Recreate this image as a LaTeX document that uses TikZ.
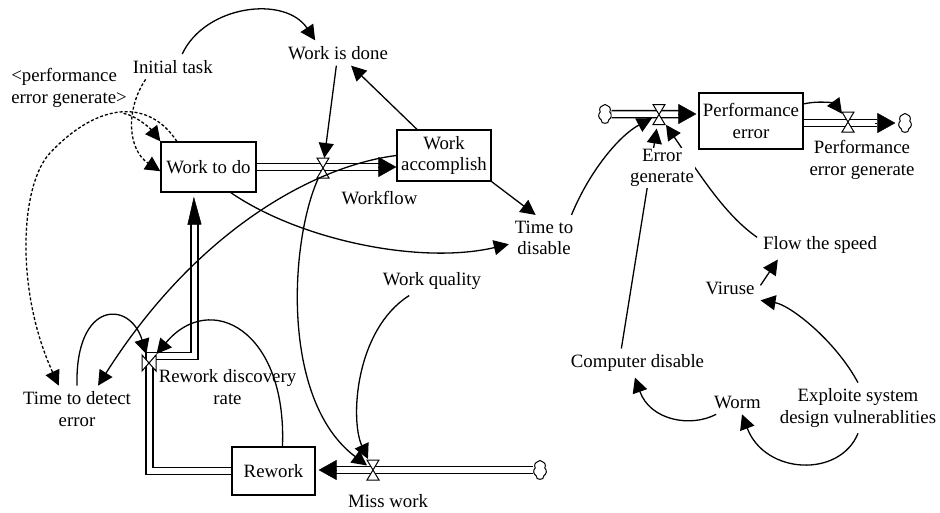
\documentclass[tikz,border=0pt]{standalone}
\usepackage{fontspec}
\setmainfont{Liberation Serif}
\usetikzlibrary{arrows.meta,shapes.symbols,calc}
\pgfdeclarelayer{back}
\pgfsetlayers{back,main}
\tikzset{
  hglass/.pic={\draw[line width=1pt, fill=white] (-6,-10) -- (6,-10) -- (-6,10) -- (6,10) -- cycle;},
  hglassh/.pic={\draw[line width=1pt, fill=white] (-7,-8) -- (-7,8) -- (7,-8) -- (7,8) -- cycle;}
}
\begin{document}
\begin{tikzpicture}[x=1pt,y=-1pt,
  every node/.style={font=\fontsize{18.8}{21.5}\selectfont},
  aux/.style={align=center, inner sep=3pt, outer sep=3pt},
  stock/.style={draw, line width=1.3pt, align=center, inner sep=0pt},
  vnode/.style={inner sep=0pt, outer sep=0pt},
  cloudn/.style={cloud, draw, line width=1pt, cloud puffs=7, cloud puff arc=110, aspect=0.7, minimum width=13pt, minimum height=19pt, inner sep=0pt},
  conn/.style={line width=1.3pt, -{Triangle[length=15pt,width=15pt]}},
  dconn/.style={conn, dash pattern=on 3pt off 2pt},
  pipe/.style={line width=1.5pt, double=white, double distance=5.5pt},
  ptip/.style={line width=0.5pt, -{Triangle[length=18pt,width=20pt]}}
]
\useasboundingbox (0,0) rectangle (940,512);

% stocks
\node[stock, minimum width=95pt, minimum height=50pt] (wtd) at (208.5,167) {Work to do};
\node[stock, minimum width=94pt, minimum height=51pt] (wacc) at (444,155.5) {Work\\accomplish};
\node[stock, minimum width=104pt, minimum height=56pt] (perr) at (751,121) {Performance\\error};
\node[stock, minimum width=83pt, minimum height=48pt] (rew) at (273.5,471) {Rework};

% auxiliaries
\node[aux] (init) at (172.7,66.7) {Initial task};
\node[aux, align=left] (peg) at (69,88) {<performance\\error generate>};
\node[aux] (wisd) at (338,53) {Work is done};
\node[aux] (wq) at (432,281) {Work quality};
\node[aux] (ttd) at (544,238) {Time to\\disable};
\node[aux, fill=white, inner sep=1pt, outer sep=0pt] (eg) at (662,168) {Error\\generate};
\node[aux] (fts) at (820,245) {Flow the speed};
\node[aux] (vir) at (730,288) {Viruse};
\node[aux] (cd) at (637.5,363) {Computer disable};
\node[aux] (worm) at (737.5,402) {Worm};
\node[aux] (esd) at (858,408) {Exploite system\\design vulnerablities};
\node[aux] (tde) at (77,409) {Time to detect\\error};

% flow labels
\node[aux] (lwf) at (379.5,198) {Workflow};
\node[aux] (lrdr) at (227.5,387) {Rework discovery\\rate};
\node[aux] (lmw) at (388,501) {Miss work};
\node[aux] (lpeg) at (862,160) {Performance\\error generate};

% valves (invisible anchors) and clouds
\node[vnode, minimum width=12pt, minimum height=20pt] (v1) at (323,168) {};
\node[vnode, minimum width=14pt, minimum height=28pt] (v2) at (659,114.5) {};
\node[vnode, minimum width=12pt, minimum height=20pt] (v3) at (848,122) {};
\node[vnode, minimum width=12pt, minimum height=22pt] (v4) at (373,470) {};
\node[vnode, minimum width=16pt, minimum height=18pt] (v5) at (149,363) {};
\node[cloudn] (c1) at (605,114) {};
\node[cloudn] (c2) at (905,123) {};
\node[cloudn] (c3) at (540,470) {};

% pipes
\draw[pipe] (wtd.east) -- ($(wtd.east -| wacc.west)+(-16,0)$);
\draw[ptip] ($(wtd.east -| wacc.west)+(-18,0)$) -- (wtd.east -| wacc.west);
\draw[pipe] (c1.east) -- ($(c1 -| perr.west)+(-17,0)$);
\draw[ptip] ($(c1 -| perr.west)+(-19,0)$) -- ($(c1 -| perr.west)+(-2,0)$);
\draw[pipe] (c2 -| perr.east) -- ($(c2.west)+(-21,0)$);
\draw[ptip] ($(c2.west)+(-23,0)$) -- ($(c2.west)+(-3,0)$);
\draw[pipe] (c3.west) -- ($(c3 -| rew.east)+(18,0)$);
\draw[ptip] ($(c3 -| rew.east)+(20,0)$) -- ($(c3 -| rew.east)+(3,0)$);
\draw[pipe] (rew.west) -| (149.5,356) -| (194.5,222);
\draw[line width=0.5pt, -{Triangle[length=28pt,width=14pt]}] (194.5,224.6) -- ($(wtd.south west)+(33.5,4)$);

% valve glyphs
\pic at (v1) {hglass};
\pic at (v2) {hglass};
\pic at (v3) {hglass};
\pic at (v4) {hglass};
\pic at (v5) {hglassh};

% connectors
\draw[conn] (init.53) .. controls (205,5) and (285,-5) .. (wisd.151);
\draw[dconn] (init.-155) .. controls (125,110) and (128,150) .. (wtd.185);
\draw[dconn] (peg.-25) .. controls (135,115) and (150,128) .. (wtd.north west);
\draw[dconn] (wtd.141) .. controls (150,100) and (100,100) .. (50,153) .. controls (20,185) and (15,290) .. (tde.128);
\draw[conn] (wisd) -- (v1);
\draw[conn] (wacc) -- (wisd);
\draw[conn] (wacc.south east) -- (ttd.110);
\draw[conn] (wtd.-49) .. controls (300,240) and (420,265) .. (ttd.190);
\draw[conn] (wacc.west) .. controls (320,165) and (200,225) .. (tde.48);
\draw[conn] (tde.north) .. controls (75,300) and (130,300) .. (v5);
\draw[conn] (rew.70) .. controls (287,330) and (210,290) .. (v5);
\draw[conn] (v1) .. controls (290,240) and (280,400) .. (v4);
\draw[conn] (wq) .. controls (355,330) and (350,420) .. (v4);
\draw[conn] (ttd.40) .. controls (590,170) and (620,135) .. (v2);
\begin{pgfonlayer}{back}
\draw[conn] (cd.138) -- (v2);
\draw[conn] (fts.173) .. controls (725,215) and (700,175) .. (v2);
\end{pgfonlayer}
\draw[conn] (vir.5) -- (fts.-161);
\draw[conn] (esd.north) .. controls (835,340) and (790,305) .. (vir.south east);
\draw[conn] (esd.south) .. controls (840,478) and (765,475) .. (worm.-70);
\draw[conn] (worm.-150) .. controls (690,428) and (650,420) .. (cd.-100);
\draw[conn] (perr.18) .. controls (822,100) and (835,104) .. (v3);
\end{tikzpicture}
\end{document}
